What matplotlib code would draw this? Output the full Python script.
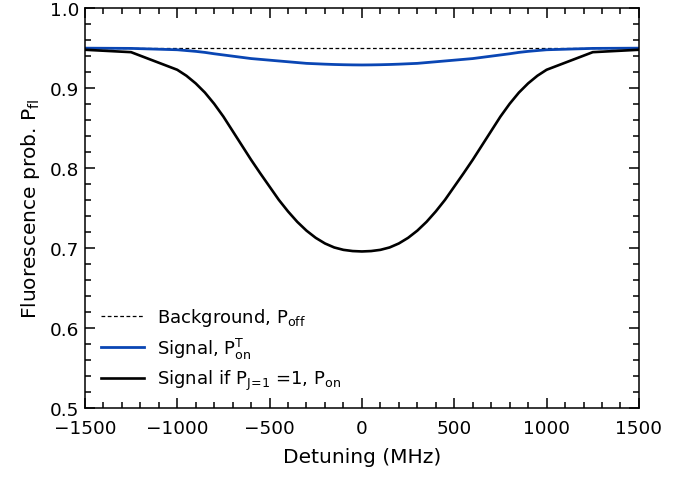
import numpy as np
import matplotlib
matplotlib.use("Agg")
import matplotlib.pyplot as plt
from matplotlib.ticker import MultipleLocator

plt.rcParams['font.family'] = ['DejaVu Sans']
plt.rcParams['mathtext.default'] = 'regular'

# detuning in MHz (left half, mirrored below)
det_half = [-1500, -1250, -1000, -950, -900, -850, -800, -750, -700, -650, -600, -550,
            -500, -450, -400, -350, -300, -250, -200, -150, -100, -50, 0]
# signal if P_J=1 = 1
pon_half = [0.948, 0.945, 0.923, 0.9155, 0.906, 0.8945, 0.8805, 0.8645, 0.8465, 0.8285,
            0.8105, 0.7935, 0.777, 0.7605, 0.746, 0.733, 0.722, 0.713, 0.706, 0.701,
            0.698, 0.6965, 0.696]
# signal P_on^T
pont_half = [0.950, 0.9497, 0.948, 0.947, 0.946, 0.9447, 0.943, 0.9415, 0.940, 0.9385,
             0.937, 0.936, 0.935, 0.934, 0.933, 0.932, 0.931, 0.9305, 0.930, 0.9296,
             0.9293, 0.9291, 0.929]
background = 0.95

det = np.array(det_half + [-d for d in det_half[-2::-1]])
pon = np.array(pon_half + pon_half[-2::-1])
pont = np.array(pont_half + pont_half[-2::-1])

fig = plt.figure(figsize=(6.9, 4.81), dpi=100)
ax = fig.add_axes([0.123, 0.149, 0.803, 0.832])

ax.plot([det[0], det[-1]], [background, background], 'k--', lw=0.9, dashes=(3, 2),
        label='Background, P$_{off}$')
ax.plot(det, pont, color='#0a46b4', lw=2.0, label='Signal, P$^{T}_{on}$')
ax.plot(det, pon, color='black', lw=1.9, label=r'Signal if P$_{J\!=\!1}$ =1, P$_{on}$')

ax.set_xlim(-1500, 1500)
ax.set_ylim(0.5, 1.0)
ax.xaxis.set_major_locator(MultipleLocator(500))
ax.xaxis.set_minor_locator(MultipleLocator(100))
ax.yaxis.set_major_locator(MultipleLocator(0.1))
ax.yaxis.set_minor_locator(MultipleLocator(0.02))
ax.tick_params(which='both', direction='in', top=True, right=True, labelsize=13.3, width=1.1)
ax.tick_params(which='major', length=7)
ax.tick_params(which='minor', length=4)
ax.tick_params(axis='x', pad=8)
ax.tick_params(axis='y', pad=4)
for s in ax.spines.values():
    s.set_linewidth(1.1)

ax.set_xlabel('Detuning (MHz)', fontsize=14.5, labelpad=7)
ax.set_ylabel('Fluorescence prob. P$_{fl}$', fontsize=14.5, labelpad=6)

ax.legend(loc='lower left', bbox_to_anchor=(0.0, 0.0), frameon=False, fontsize=13,
          handlelength=2.4, handletextpad=0.7, labelspacing=0.4)

fig.savefig('out.png', dpi=100)
